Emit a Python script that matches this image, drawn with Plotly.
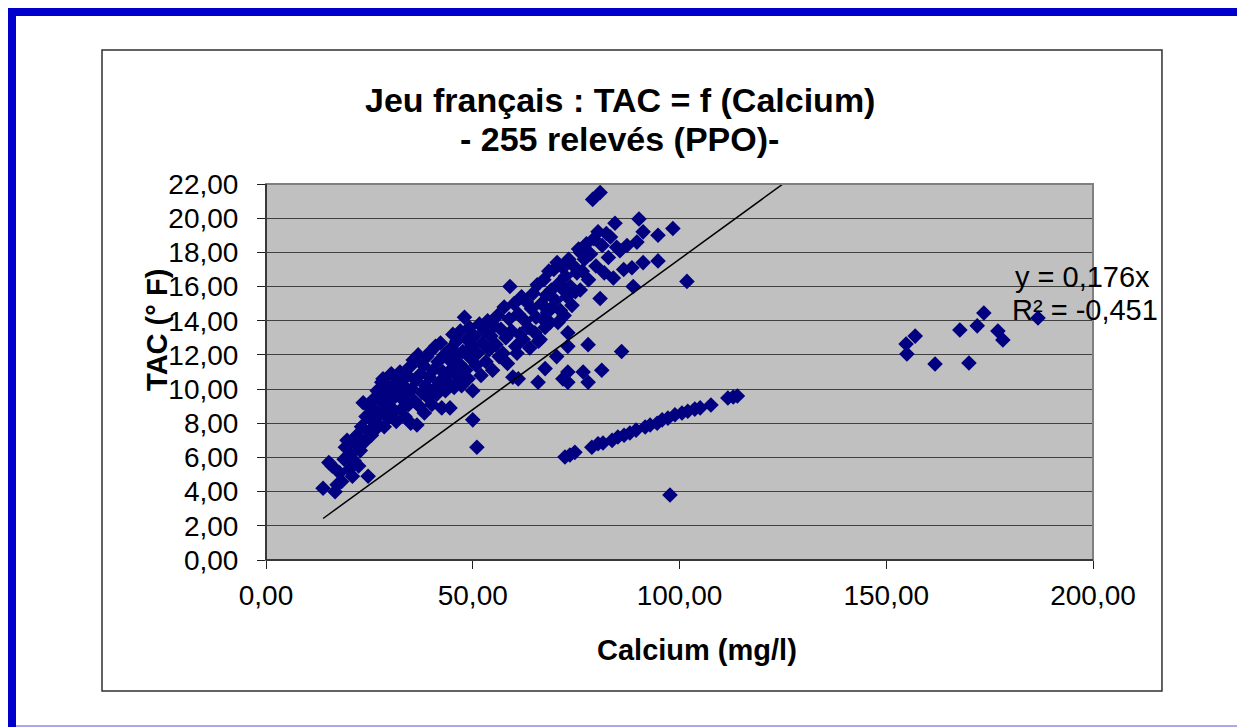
"""
Nuage de points TAC = f(Calcium), jeu français
"""
import plotly.graph_objects as go

# ---- données ----
# bande principale (bas à gauche -> haut à droite)
calcium_bande = [
    13.8, 15.2, 16.0, 16.7, 17.2, 17.8, 18.3, 18.9, 19.2, 19.6, 20.1, 20.5, 20.9, 21.3, 21.7,
    22.0, 22.4, 22.8, 23.1, 23.5, 23.8, 24.2, 24.7, 24.9, 25.2,
    25.5, 25.8, 26.0, 26.3, 26.6, 26.9, 27.2, 27.5, 27.8, 28.0, 28.3, 28.6, 28.9, 29.2, 29.5,
    29.8, 30.0, 30.3, 30.6, 30.9, 31.2, 31.5, 31.8, 32.1, 32.4, 32.7, 33.0, 33.3, 33.6, 33.9,
    34.2, 34.5, 34.8, 35.0, 35.3,
    35.6, 35.9, 36.2, 36.5, 36.8, 37.1, 37.4, 37.7, 38.0, 38.3, 38.6, 38.9, 39.2, 39.5, 39.8,
    40.1, 40.4, 40.7, 41.0, 41.3, 41.6, 41.9, 42.2, 42.5, 42.8, 43.1, 43.4, 43.7, 44.0, 44.3,
    44.5, 44.8, 45.0, 45.2, 45.5,
    45.8, 46.1, 46.4, 46.7, 47.0, 47.3, 47.6, 48.0, 48.3, 48.6, 48.9, 49.2, 49.5, 49.8, 50.0,
    50.0, 51.0, 50.4, 50.8, 51.2, 51.6, 52.0, 52.4, 52.8, 53.2, 53.6, 54.0, 54.4, 54.8, 55.2,
    55.6, 56.0, 56.4, 56.8, 57.3, 57.6, 58.0, 58.4, 58.8, 59.0, 59.4, 59.7, 60.0, 60.4, 60.7,
    61.0, 61.4, 61.8, 62.2, 62.6, 63.0, 63.4, 63.8, 64.2, 64.6, 65.0, 65.3, 65.6, 65.9, 66.3,
    66.6, 66.9, 67.2, 67.5, 67.8, 68.1, 68.4, 68.7, 69.0, 69.3, 69.6, 70.0, 70.4, 70.6, 70.9,
    71.2, 71.5, 71.8, 72.1, 72.4, 72.8, 73.2, 73.6, 74.0, 74.4, 74.8, 75.2, 75.6, 76.0, 76.0,
    76.5, 77.0, 77.5, 78.0, 78.5, 79.0, 79.3, 79.8, 80.3, 80.8, 80.8, 81.3, 81.8, 82.3, 82.8,
    83.3, 84.0, 84.4, 84.8, 85.6, 86.5, 87.3, 88.5, 89.7, 90.2, 91.2, 91.2,
]
tac_bande = [
    4.2, 5.7, 5.5, 4.0, 4.4, 5.1, 4.6, 5.9, 6.6, 7.0, 5.3, 6.2, 4.9, 5.8, 6.8,
    7.3, 5.5, 6.4, 7.8, 9.2, 6.9, 8.4, 4.9, 7.5, 8.9,
    7.3, 8.1, 9.4, 7.6, 8.7, 9.9, 7.9, 8.5, 9.3, 10.4, 10.6, 7.8, 8.9, 9.6, 8.3,
    10.1, 9.0, 10.9, 8.6, 9.5, 10.3, 8.1, 9.8, 10.6, 11.0, 8.8, 9.4, 10.2, 8.4, 9.7,
    10.8, 9.1, 11.3, 8.0, 10.0,
    11.7, 9.3, 10.5, 7.9, 12.0, 9.0, 10.9, 9.8, 11.4, 8.6, 10.2, 11.9, 9.5, 10.7, 12.2,
    9.1, 11.1, 10.0, 12.5, 9.7, 11.6, 10.4, 12.7, 8.9, 11.0, 12.0, 9.9, 10.8, 11.8, 10.3,
    8.9, 12.4, 11.2, 13.2, 10.1,
    11.9, 12.8, 10.7, 11.5, 13.4, 10.2, 12.2, 14.2, 11.1, 12.9, 10.6, 13.6, 11.8, 12.5, 9.9,
    8.2, 6.6, 13.1, 11.4, 12.1, 13.8, 10.8, 12.7, 13.4, 11.6, 14.0, 12.3, 13.1, 11.1, 13.7,
    12.6, 14.3, 11.9, 13.5, 12.1, 14.8, 13.0, 11.5, 14.1, 16.0, 13.4, 10.7, 15.0, 12.5, 12.1,
    14.4, 13.2, 15.4, 12.9, 14.0, 15.1, 13.6, 12.4, 14.7, 15.6, 13.3, 14.2, 16.1, 12.8, 12.9,
    15.0, 14.1, 16.4, 13.6, 15.5, 14.5, 16.9, 13.9, 15.8, 14.8, 17.0, 15.2, 17.4, 13.9, 16.2,
    14.6, 15.9, 17.1, 14.3, 16.6, 15.4, 17.6, 16.0, 14.9, 17.2, 15.7, 16.8, 18.2, 15.8, 18.0,
    16.9, 17.6, 18.5, 16.4, 17.9, 21.1, 18.8, 17.2, 19.2, 21.5, 15.3, 18.4, 16.8, 19.1, 17.7,
    18.9, 16.5, 19.7, 18.3, 18.1, 17.0, 18.4, 17.1, 18.6, 19.95, 19.2, 17.4,
]

# points isolés entre la bande et la droite
calcium_isoles = [94.8, 98.4, 94.8, 101.8, 88.8, 86.0, 81.2, 77.9, 77.9, 76.7,
                  73.0, 73.0, 71.8, 67.5, 65.8, 61.0, 70.3, 73.0, 73.0, 97.7]
tac_isoles = [19.0, 19.4, 17.5, 16.3, 16.0, 12.2, 11.1, 10.4, 12.6, 11.0,
              10.4, 11.0, 10.6, 11.2, 10.4, 10.6, 11.9, 12.5, 13.3, 3.8]

# alignement du bas (72 -> 114 mg/l)
calcium_ligne = [72.3, 73.5, 74.7, 78.8, 80.3, 81.5, 83.7, 85.1, 86.6, 88.0, 89.5, 91.7,
                 92.9, 94.6, 95.8, 97.2, 98.9, 100.6, 102.0, 103.7, 105.0, 107.6, 111.7,
                 113.0, 114.0]
tac_ligne = [6.03, 6.14, 6.3, 6.6, 6.8, 6.85, 7.0, 7.2, 7.3, 7.43, 7.6, 7.78,
             7.9, 8.0, 8.2, 8.3, 8.5, 8.6, 8.7, 8.83, 8.9, 9.07, 9.48, 9.54, 9.6]

# groupe à droite (155 -> 187 mg/l)
calcium_droite = [186.7, 173.6, 172.0, 167.8, 177.0, 178.2, 157.0, 154.8, 155.0, 161.8, 170.0]
tac_droite = [14.16, 14.45, 13.7, 13.46, 13.4, 12.87, 13.1, 12.64, 12.05, 11.47, 11.53]

calcium = calcium_bande + calcium_isoles + calcium_ligne + calcium_droite
tac = tac_bande + tac_isoles + tac_ligne + tac_droite

# courbe de tendance (Excel) : y = 0,176x
pente = 0.176
r2 = -0.451

# ---- figure ----
BLEU_NUIT = '#000080'
FONT = 'Liberation Sans, Arial, sans-serif'

fig = go.Figure()

fig.add_trace(go.Scatter(
    x=calcium, y=tac,
    mode='markers',
    marker=dict(symbol='diamond', size=12, color=BLEU_NUIT, line=dict(width=0)),
    showlegend=False,
    name='TAC'
))

x_tend = [min(calcium), max(calcium)]
fig.add_trace(go.Scatter(
    x=x_tend, y=[pente * v for v in x_tend],
    mode='lines',
    line=dict(color='black', width=1.5),
    showlegend=False,
    hoverinfo='skip'
))

# cadres : bordure bleue, zone du graphique, zone de tracé
shapes = [
    dict(type='rect', xref='paper', yref='paper', x0=-0.3132, x1=1.20, y0=1.447, y1=1.4707,
         fillcolor='#0000CC', line=dict(width=0), layer='below'),
    dict(type='rect', xref='paper', yref='paper', x0=-0.3132, x1=-0.3023, y0=-0.444, y1=1.4707,
         fillcolor='#0000CC', line=dict(width=0), layer='below'),
    dict(type='line', xref='paper', yref='paper', x0=-0.3023, x1=1.20, y0=-0.4415, y1=-0.4415,
         line=dict(color='#A8A8F0', width=2)),
    dict(type='rect', xref='paper', yref='paper', x0=-0.1983, x1=1.0834, y0=-0.3484, y1=1.3564,
         line=dict(color='#303030', width=1.5), layer='below'),
    dict(type='rect', xref='paper', yref='paper', x0=0, x1=1, y0=0, y1=1,
         line=dict(color='#808080', width=2), layer='above'),
    dict(type='line', xref='paper', yref='paper', x0=0, x1=0, y0=0, y1=1,
         line=dict(color='#202020', width=1.5)),
    dict(type='line', xref='paper', yref='paper', x0=0, x1=1, y0=0, y1=0,
         line=dict(color='#202020', width=1.5)),
]

annotations = [
    dict(text='<b>Jeu français : TAC = f (Calcium)</b>', x=0.428, y=(560 - 100) / 376,
         font=dict(size=34, color='black', family=FONT)),
    dict(text='<b>- 255 relevés (PPO)-</b>', x=0.428, y=(560 - 139) / 376,
         font=dict(size=34, color='black', family=FONT)),
    dict(text='<b>Calcium (mg/l)</b>', x=0.521, y=-0.239,
         font=dict(size=29, color='black', family=FONT)),
    dict(text='<b>TAC (° F)</b>', x=-0.1318, y=0.612, textangle=-90,
         font=dict(size=29, color='black', family=FONT)),
    dict(text='y = 0,176x', x=(1013 - 266) / 827, y=0.753, xanchor='left',
         font=dict(size=29, color='black', family=FONT)),
    dict(text='R² = -0,451', x=(1010 - 266) / 827, y=0.665, xanchor='left',
         font=dict(size=29, color='black', family=FONT)),
]
for a in annotations:
    a.update(xref='paper', yref='paper', showarrow=False)
    a.setdefault('xanchor', 'center')
    a['yanchor'] = 'middle'

# la page ajoute 8 px de marge : on décale tout de 8 px
fig.update_layout(
    width=1237, height=719,
    margin=dict(l=258, r=152, t=176, b=167, pad=0),
    paper_bgcolor='white',
    plot_bgcolor='#C0C0C0',
    separators=', ',
    font=dict(family=FONT, size=28, color='black'),
    shapes=shapes,
    annotations=annotations,
)

fig.update_xaxes(
    range=[0, 200], dtick=50, tickformat='.2f',
    showgrid=False, zeroline=False, showline=False,
    ticks='outside', ticklen=8, tickcolor='#202020',
    ticklabelstandoff=2,
    tickfont=dict(size=28, family=FONT),
)
fig.update_yaxes(
    range=[0, 22], dtick=2, tickformat='.2f',
    showgrid=True, gridcolor='#404040', gridwidth=1,
    zeroline=False, showline=False,
    ticks='outside', ticklen=8, tickcolor='#202020',
    ticklabelstandoff=13,
    tickfont=dict(size=28, family=FONT),
)

fig.write_html('out.html')
